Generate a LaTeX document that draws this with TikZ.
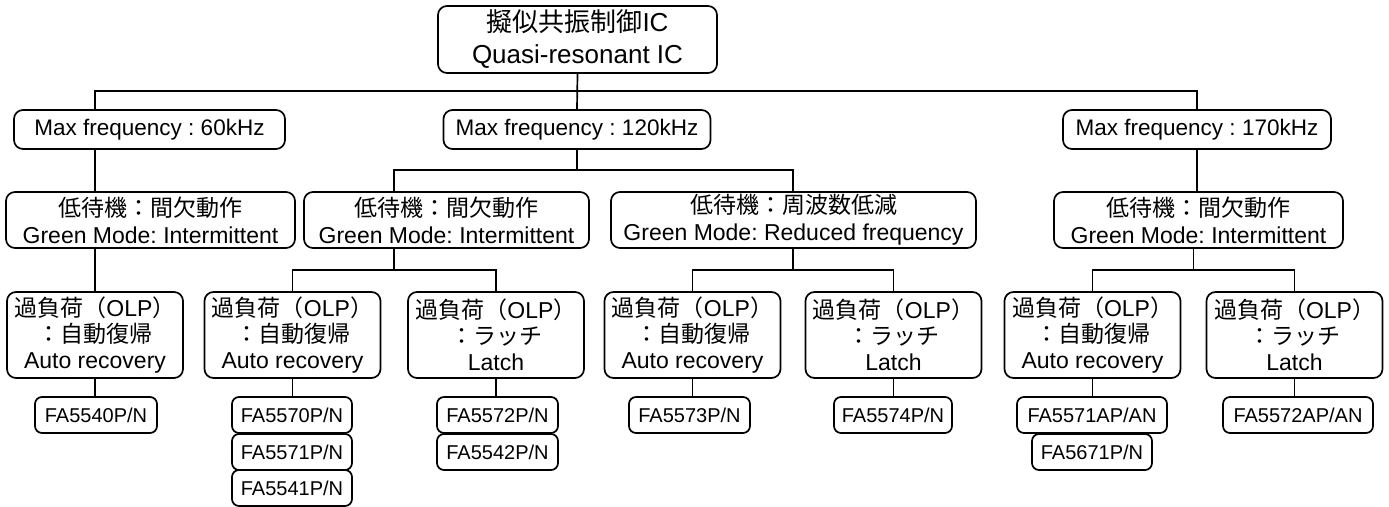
\documentclass[tikz,border=0pt]{standalone}
\usepackage{fontspec}
\setmainfont{Liberation Sans}
\newfontfamily\jp{Noto Sans CJK JP}
\usetikzlibrary{calc}
\frenchspacing
\begin{document}
\begin{tikzpicture}[x=1pt,y=-1pt,
  box/.style={draw,line width=1.7pt,rounded corners=9pt,inner sep=0pt,align=center,anchor=center},
  topbox/.style={box,minimum width=279pt,minimum height=67pt,font=\fontsize{26}{32}\selectfont},
  freqbox/.style={box,minimum height=39pt,font=\fontsize{22.5}{27}\selectfont},
  greenbox/.style={box,minimum height=56pt,font=\fontsize{23}{27}\selectfont},
  olpbox/.style={box,minimum width=176pt,minimum height=86pt,font=\fontsize{23}{26}\selectfont},
  partbox/.style={box,rounded corners=7pt,minimum height=36pt,font=\fontsize{20}{24}\selectfont},
  conn/.style={line width=1.7pt}]
\useasboundingbox (0,0) rectangle (1389,506);
% top
\node[topbox] (top) at (577.5,39.5) {{\jp 擬似共振制御}IC\\Quasi-resonant IC};
% frequency
\node[freqbox,minimum width=271pt] (f60) at (149.5,129.5) {Max frequency : 60kHz};
\node[freqbox,minimum width=267pt] (f120) at (577,129.5) {Max frequency : 120kHz};
\node[freqbox,minimum width=268pt] (f170) at (1197,129.5) {Max frequency : 170kHz};
% green mode
\node[greenbox,minimum width=289pt] (g1) at (150.5,220) {{\jp 低待機：間欠動作}\\Green Mode: Intermittent};
\node[greenbox,minimum width=285pt] (g2) at (446.5,220) {{\jp 低待機：間欠動作}\\Green Mode: Intermittent};
\node[greenbox,minimum width=365pt] (g3) at (793.5,220) {{\jp 低待機：周波数低減}\\Green Mode: Reduced frequency};
\node[greenbox,minimum width=289pt] (g4) at (1198.5,220) {{\jp 低待機：間欠動作}\\Green Mode: Intermittent};
% OLP
\node[olpbox] (o1) at (95,335) {{\jp 過負荷（}OLP{\jp ）}\\{\jp ：自動復帰}\\Auto recovery};
\node[olpbox] (o2) at (292.5,335) {{\jp 過負荷（}OLP{\jp ）}\\{\jp ：自動復帰}\\Auto recovery};
\node[olpbox] (o3) at (496,335) {{\jp 過負荷（}OLP{\jp ）}\\{\jp ：ラッチ}\\Latch};
\node[olpbox] (o4) at (692.5,335) {{\jp 過負荷（}OLP{\jp ）}\\{\jp ：自動復帰}\\Auto recovery};
\node[olpbox] (o5) at (893.5,335) {{\jp 過負荷（}OLP{\jp ）}\\{\jp ：ラッチ}\\Latch};
\node[olpbox] (o6) at (1092.5,335) {{\jp 過負荷（}OLP{\jp ）}\\{\jp ：自動復帰}\\Auto recovery};
\node[olpbox] (o7) at (1294.5,335) {{\jp 過負荷（}OLP{\jp ）}\\{\jp ：ラッチ}\\Latch};
% parts
\node[partbox,minimum width=122pt] (p1) at (96,415) {FA5540P/N};
\node[partbox,minimum width=120pt] (p2a) at (292,415) {FA5570P/N};
\node[partbox,minimum width=120pt] (p2b) at (292,452) {FA5571P/N};
\node[partbox,minimum width=120pt] (p2c) at (292,488) {FA5541P/N};
\node[partbox,minimum width=121pt] (p3a) at (497.5,415) {FA5572P/N};
\node[partbox,minimum width=121pt] (p3b) at (497.5,452) {FA5542P/N};
\node[partbox,minimum width=121pt] (p4) at (689.5,415) {FA5573P/N};
\node[partbox,minimum width=118pt] (p5) at (893,415) {FA5574P/N};
\node[partbox,minimum width=150pt] (p6a) at (1092,415) {FA5571AP/AN};
\node[partbox,minimum width=120pt] (p6b) at (1092,452) {FA5671P/N};
\node[partbox,minimum width=150pt] (p7) at (1298,415) {FA5572AP/AN};
% bus levels
\coordinate (b1) at (0,91);
\coordinate (b2) at (0,170);
\coordinate (b3) at (0,270);
\coordinate (m23) at ($(o2)!0.5!(o3)$);
\coordinate (m45) at ($(o4)!0.5!(o5)$);
\coordinate (m67) at ($(o6)!0.5!(o7)$);
% connectors
\draw[conn] (top.south) -- (f120.north);
\draw[conn] (o1 |- f60.north) |- (b1 -| f170.north) -- (f170.north);
\draw[conn] (o1 |- f60.south) -- (o1 |- g1.north);
\draw[conn] (o1 |- g1.south) -- (o1.north);
\draw[conn] (f120.south) -- (f120.south |- b2);
\draw[conn] (m23 |- g2.north) |- (b2 -| m45) -- (m45 |- g3.north);
\draw[conn] (f170.south) -- (f170.south |- g4.north);
\draw[conn] (m23 |- g2.south) -- (m23 |- b3);
\draw[conn] (o2.north) |- (b3 -| o3) -- (o3.north);
\draw[conn] (m45 |- g3.south) -- (m45 |- b3);
\draw[conn] (o4.north) |- (b3 -| o5) -- (o5.north);
\draw[conn] (m67 |- g4.south) -- (m67 |- b3);
\draw[conn] (o6.north) |- (b3 -| o7) -- (o7.north);
\draw[conn] (o1.south) -- (o1.south |- p1.north);
\draw[conn] (o2.south) -- (o2.south |- p2a.north);
\draw[conn] (o3.south) -- (o3.south |- p3a.north);
\draw[conn] (o4.south) -- (o4.south |- p4.north);
\draw[conn] (o5.south) -- (o5.south |- p5.north);
\draw[conn] (o6.south) -- (o6.south |- p6a.north);
\draw[conn] (o7.south) -- (o7.south |- p7.north);
\end{tikzpicture}
\end{document}
